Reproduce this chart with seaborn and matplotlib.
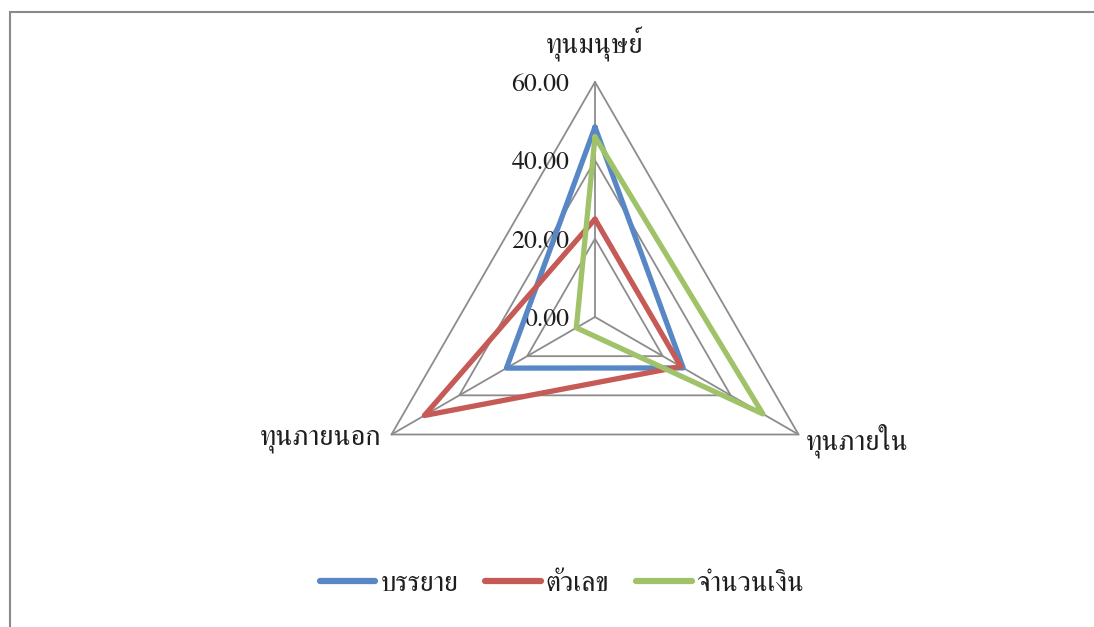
import numpy as np
import pandas as pd
import matplotlib
matplotlib.use("Agg")
import matplotlib.pyplot as plt
from matplotlib.patches import Rectangle
import seaborn as sns

# Radar axes (clockwise from top) and series values
categories = ["ทุนมนุษย์", "ทุนภายใน", "ทุนภายนอก"]
series_names = ["บรรยาย", "ตัวเลข", "จำนวนเงิน"]
values_lecture = [48.5, 26.0, 26.1]
values_numbers = [25.0, 25.3, 50.3]
values_money = [46.0, 49.5, 5.5]
tick_values = [0, 20, 40, 60]
tick_labels = ["0.00", "20.00", "40.00", "60.00"]

colors = ["#5787C5", "#C65A57", "#A0C268"]
grid_color = "#8C8C8C"
text_color = "#1E1E1E"

sns.set_theme(style="white")
plt.rcParams["font.family"] = ["FreeSerif", "DejaVu Serif"]

W, H, DPI = 1094, 627, 100
fig = plt.figure(figsize=(W / DPI, H / DPI), dpi=DPI)
ax = fig.add_axes([0, 0, 1, 1])

# pixel geometry of the radar: centre and outer radius
cx, cy, R = 595, 317, 235
rmax = tick_values[-1]
scale = rmax / R  # data units per pixel
ax.set_xlim(-cx * scale, (W - cx) * scale)
ax.set_ylim(-(H - cy) * scale, cy * scale)
ax.set_aspect("equal")
ax.axis("off")

angles = np.deg2rad([90, -30, 210])


def to_xy(vals):
    vals = np.asarray(vals, dtype=float)
    return vals * np.cos(angles), vals * np.sin(angles)


# grid: spokes and triangles
for a in angles:
    ax.plot([0, rmax * np.cos(a)], [0, rmax * np.sin(a)], color=grid_color, lw=1.3, zorder=1)
for t in tick_values[1:]:
    gx, gy = to_xy([t] * 3)
    ax.plot(np.append(gx, gx[0]), np.append(gy, gy[0]), color=grid_color, lw=1.3, zorder=1)

# value labels along the top spoke
for t, lab in zip(tick_values, tick_labels):
    ax.text(-6.6, t - 0.8, lab, ha="right", va="center", fontsize=18.5, color=text_color)

# category labels
ax.text(0, rmax + 9.8, categories[0], ha="center", va="center", fontsize=20.5, color=text_color)
bx, by = to_xy([rmax] * 3)
ax.text(bx[1] + 1.8, by[1] - 1.6, categories[1], ha="left", va="center", fontsize=20.5, color=text_color)
ax.text(bx[2] - 2.5, by[2] - 1.6, categories[2], ha="right", va="center", fontsize=20.5, color=text_color)

# series polygons
rows = []
for name, vals in zip(series_names, [values_lecture, values_numbers, values_money]):
    x, y = to_xy(vals)
    x = np.append(x, x[0])
    y = np.append(y, y[0])
    for i, (xi, yi) in enumerate(zip(x, y)):
        rows.append({"series": name, "order": i, "x": xi, "y": yi})
df = pd.DataFrame(rows)

sns.lineplot(data=df, x="x", y="y", hue="series", units="series", estimator=None,
             sort=False, palette=colors, hue_order=series_names, linewidth=3.8,
             ax=ax, zorder=3, legend=True)
for line in ax.get_lines()[-3:]:
    line.set_solid_joinstyle("miter")
    line.set_solid_capstyle("butt")

handles, labels = ax.get_legend_handles_labels()
for h in handles:
    h.set_linewidth(4.5)
    h.set_solid_capstyle("round")
ax.legend(handles, labels, loc="center", bbox_to_anchor=(562 / W, 1 - 584 / H),
          bbox_transform=fig.transFigure, ncol=3, frameon=False, fontsize=20,
          handlelength=2.0, handletextpad=0.18, columnspacing=0.97,
          borderpad=0, borderaxespad=0)
for txt in ax.get_legend().get_texts():
    txt.set_color(text_color)

# chart border
fig.patches.append(Rectangle((10 / W, -0.1), 1.2, 1 - 12 / H + 0.1, transform=fig.transFigure,
                             fill=False, edgecolor="#8A8A8A", lw=1.5))

fig.savefig("out.png", dpi=DPI)
